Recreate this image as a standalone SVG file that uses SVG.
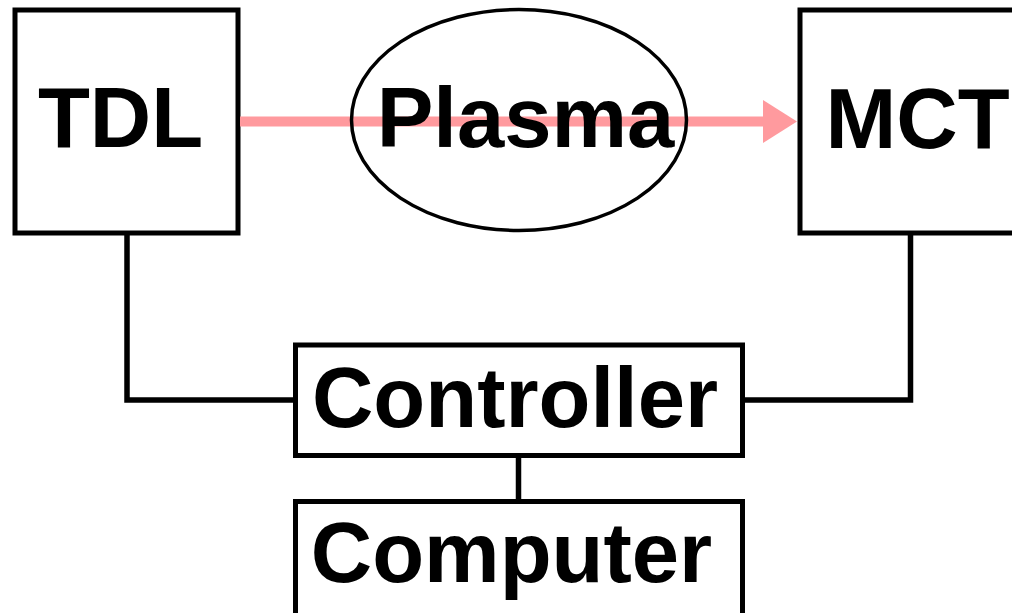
<svg xmlns="http://www.w3.org/2000/svg" width="1012" height="613" viewBox="0 0 1012 613">
<style>
.box{fill:#fff;stroke:#000;stroke-width:5}
.lbl{font-family:"Liberation Sans",Arial,sans-serif;font-weight:bold;font-size:85px;fill:#000;text-anchor:middle}
.wire{fill:none;stroke:#000;stroke-width:5.5}
</style>
<rect width="1012" height="613" fill="#fff"/>
<g id="connectors">
<polyline class="wire" points="127,233 127,400 296,400"/>
<polyline class="wire" points="910.5,233 910.5,400 742,400"/>
<line class="wire" x1="518.5" y1="455" x2="518.5" y2="502"/>
</g>
<g id="TDL">
<rect class="box" x="15" y="10" width="223" height="223"/>
<text class="lbl" x="120.5" y="147">TDL</text>
</g>
<g id="MCT">
<rect class="box" x="800" y="10" width="230" height="223"/>
<text class="lbl" x="917.5" y="148">MCT</text>
</g>
<g id="Controller">
<rect class="box" x="295.5" y="345" width="447" height="110.5"/>
<text class="lbl" x="515" y="427">Controller</text>
</g>
<g id="Computer">
<rect class="box" x="295.5" y="501.5" width="447" height="130"/>
<text class="lbl" x="511.5" y="582">Computer</text>
</g>
<g id="beam">
<line x1="240" y1="121.5" x2="765" y2="121.5" stroke="#ff9a9e" stroke-width="10"/>
<polygon points="763,100 797,121.5 763,143" fill="#ff9a9e"/>
</g>
<g id="Plasma">
<ellipse cx="519" cy="120" rx="167.5" ry="110.5" fill="none" stroke="#000" stroke-width="3.5"/>
<text class="lbl" x="525.5" y="147">Plasma</text>
</g>
</svg>
